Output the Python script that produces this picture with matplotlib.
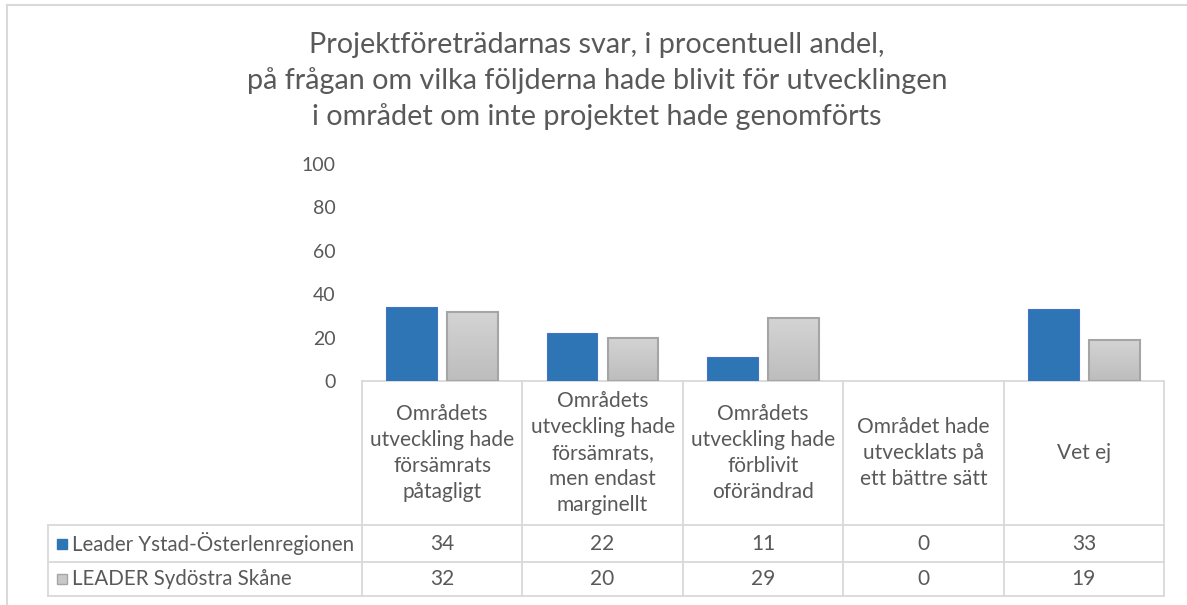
import matplotlib
matplotlib.use("Agg")
import matplotlib.pyplot as plt
import matplotlib.transforms as mtransforms
from matplotlib.patches import Rectangle
from matplotlib.colors import LinearSegmentedColormap
import numpy as np

plt.rcParams['font.family'] = ['Lato', 'DejaVu Sans']

title = ("Projektföreträdarnas svar, i procentuell andel,\n"
         "på frågan om vilka följderna hade blivit för utvecklingen\n"
         "i området om inte projektet hade genomförts")
categories = [
    "Områdets\nutveckling hade\nförsämrats\npåtagligt",
    "Områdets\nutveckling hade\nförsämrats,\nmen endast\nmarginellt",
    "Områdets\nutveckling hade\nförblivit\noförändrad",
    "Området hade\nutvecklats på\nett bättre sätt",
    "Vet ej",
]
series_names = ["Leader Ystad-Österlenregionen", "LEADER Sydöstra Skåne"]
ystad = [34, 22, 11, 0, 33]
sydostra = [32, 20, 29, 0, 19]
yticks = [0, 20, 40, 60, 80, 100]

W, H = 1187, 605
fig = plt.figure(figsize=(W / 100, H / 100), dpi=100)
fig.patch.set_facecolor("white")

ov = fig.add_axes([0, 0, 1, 1])
ov.set_xlim(0, W)
ov.set_ylim(H, 0)
ov.axis("off")

TXT = "#595959"
GRID = "#d9d9d9"
FS = 15

# outer chart border
ov.plot([7, 7], [5, H], color="#d9d9d9", lw=1.5)
ov.plot([7, W], [5, 5], color="#d9d9d9", lw=1.5)

ax_left, ax_right, y0, y100 = 362, 1164, 381, 164
ax = fig.add_axes([ax_left / W, 1 - y0 / H, (ax_right - ax_left) / W, (y0 - y100) / H])
ax.set_zorder(2)
ax.patch.set_alpha(0)
n = len(categories)
x = np.arange(n)
for s in ax.spines.values():
    s.set_visible(False)
ax.set_xticks([])
ax.set_yticks(yticks)
ax.set_yticklabels([str(t) for t in yticks], fontsize=14, color=TXT)
ax.tick_params(axis="y", length=0, pad=19)

bw = 0.315
off = 0.19
lw1 = [0.8 if v > 0 else 0 for v in ystad]
ax.bar(x - off, ystad, bw, color="#2e75b6", edgecolor="#4472c4", linewidth=lw1, zorder=3)
bars2 = ax.bar(x + off, sydostra, bw, color="#c8c8c8", linewidth=0, zorder=3)
grad = np.linspace(0, 1, 64).reshape(-1, 1)
cmap = LinearSegmentedColormap.from_list("g", ["#bdbdbd", "#d4d4d4"])
for b, v in zip(bars2, sydostra):
    if v <= 0:
        continue
    im = ax.imshow(grad, extent=[b.get_x(), b.get_x() + b.get_width(), 0, v],
                   origin="lower", aspect="auto", cmap=cmap, zorder=3.5)
    im.set_clip_path(b)
    ax.add_patch(Rectangle((b.get_x(), 0), b.get_width(), v, fill=False,
                           edgecolor="#a5a5a5", linewidth=1.5, zorder=4))
ax.set_xlim(-0.5, n - 0.5)
ax.set_ylim(0, 100)

# title
ov.text(597, 81, title, ha="center", va="center", fontsize=20.7, color=TXT,
        linespacing=1.4)

# data table
tr = mtransforms.blended_transform_factory(ax.transData, ov.transData)
row_top, row1, row2, row_bot = 381, 525, 562, 596
leg_left = 48
ov.plot([ax_left, ax_right], [row_top, row_top], color=GRID, lw=1.3, zorder=1)
for yy in (row1, row2, row_bot):
    ov.plot([leg_left, ax_right], [yy, yy], color=GRID, lw=1.3, zorder=1)
ov.plot([leg_left, leg_left], [row1, row_bot], color=GRID, lw=1.3)
for i in range(n + 1):
    ov.plot([i - 0.5, i - 0.5], [row_top, row_bot], color=GRID, lw=1.3, transform=tr)

for i, c in enumerate(categories):
    ov.text(i, (row_top + row1) / 2, c, ha="center", va="center", fontsize=FS,
            color=TXT, linespacing=1.38, transform=tr)
for i in range(n):
    ov.text(i, (row1 + row2) / 2, str(ystad[i]), ha="center", va="center",
            fontsize=FS, color=TXT, transform=tr)
    ov.text(i, (row2 + row_bot) / 2, str(sydostra[i]), ha="center", va="center",
            fontsize=FS, color=TXT, transform=tr)

keys = [("#2e75b6", "#2e75b6"), ("#c8c8c8", "#a5a5a5")]
for (fc, ec), name, (ya, yb) in zip(keys, series_names, [(row1, row2), (row2, row_bot)]):
    yc = (ya + yb) / 2
    ov.add_patch(Rectangle((57, yc - 5), 10, 10, facecolor=fc, edgecolor=ec, lw=1))
    ov.text(72, yc, name, ha="left", va="center", fontsize=14.8, color=TXT)

fig.savefig("out.png", dpi=100, facecolor="white")
